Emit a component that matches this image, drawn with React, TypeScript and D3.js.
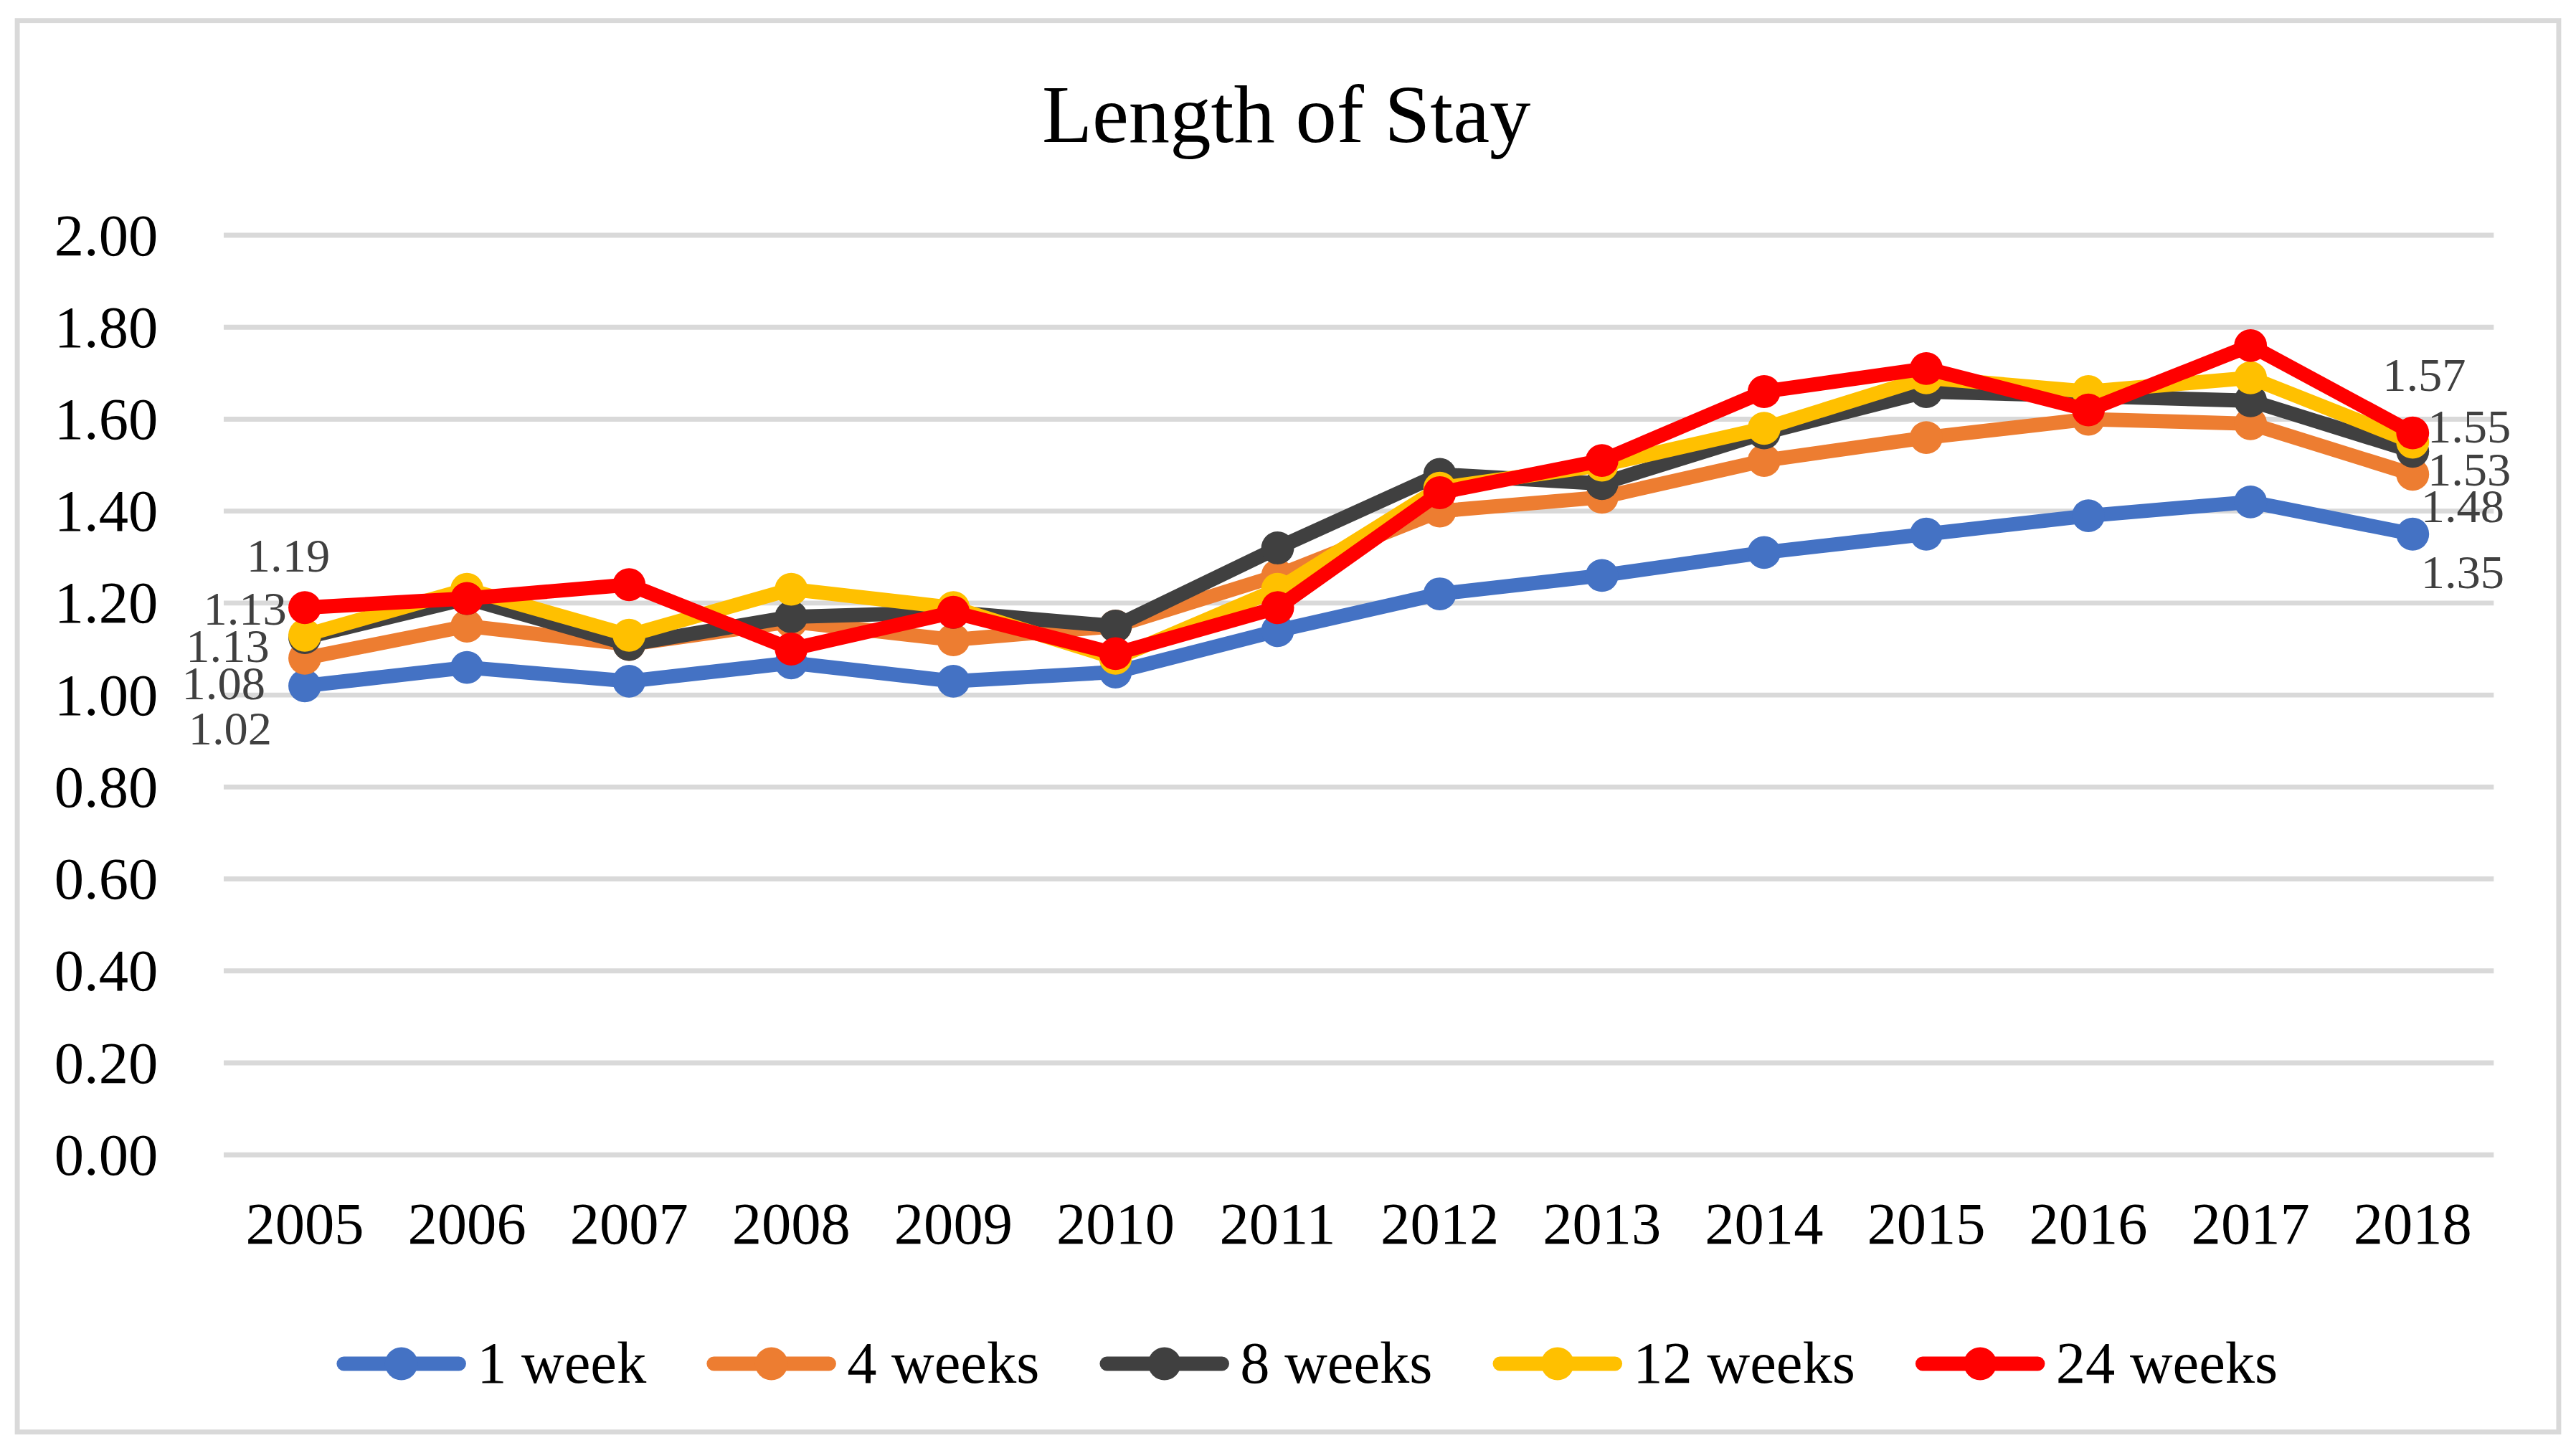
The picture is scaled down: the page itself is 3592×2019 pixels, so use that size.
import * as d3 from "d3";
import { useEffect, useRef } from "react";

const years = ["2005", "2006", "2007", "2008", "2009", "2010", "2011", "2012", "2013", "2014", "2015", "2016", "2017", "2018"];
const week1 = [1.02, 1.06, 1.03, 1.07, 1.03, 1.05, 1.14, 1.22, 1.26, 1.31, 1.35, 1.39, 1.42, 1.35];
const week4 = [1.08, 1.15, 1.11, 1.16, 1.12, 1.15, 1.26, 1.4, 1.43, 1.51, 1.56, 1.6, 1.59, 1.48];
const week8 = [1.125, 1.21, 1.11, 1.17, 1.18, 1.15, 1.32, 1.48, 1.46, 1.57, 1.66, 1.65, 1.64, 1.53];
const week12 = [1.13, 1.23, 1.13, 1.23, 1.19, 1.08, 1.23, 1.45, 1.5, 1.58, 1.69, 1.66, 1.69, 1.55];
const week24 = [1.19, 1.21, 1.24, 1.1, 1.18, 1.09, 1.19, 1.44, 1.51, 1.66, 1.71, 1.62, 1.76, 1.57];
const yTicks = [0, 0.2, 0.4, 0.6, 0.8, 1.0, 1.2, 1.4, 1.6, 1.8, 2.0];

// label offsets for the first and last point of each series (Excel placed them by hand)
type Lab = { dx: number; dy: number; anchor: string };
const series: { name: string; color: string; values: number[]; first: Lab; last: Lab }[] = [
  { name: "1 week", color: "#4472C4", values: week1, first: { dx: -20, dy: 35.7, anchor: "end" }, last: { dx: 5, dy: 33, anchor: "start" } },
  { name: "4 weeks", color: "#ED7D31", values: week4, first: { dx: -24, dy: 24.8, anchor: "end" }, last: { dx: 5, dy: 29, anchor: "start" } },
  { name: "8 weeks", color: "#404040", values: week8, first: { dx: -21.5, dy: 14.8, anchor: "end" }, last: { dx: 9, dy: 21, anchor: "start" } },
  { name: "12 weeks", color: "#FFC000", values: week12, first: { dx: -11, dy: -6.6, anchor: "end" }, last: { dx: 9, dy: 0, anchor: "start" } },
  { name: "24 weeks", color: "#FF0000", values: week24, first: { dx: -10, dy: -22, anchor: "middle" }, last: { dx: 7, dy: -25.6, anchor: "middle" } },
];

const W = 3592;
const H = 2019;
const S = 3592 / 1566; // drawing units -> screen px
const font = "'Liberation Serif', 'Times New Roman', serif";

export default function App() {
  const svgRef = useRef<SVGSVGElement>(null);

  useEffect(() => {
    document.body.style.margin = "0";
    if (!svgRef.current) return;
    const svg = d3.select(svgRef.current);
    svg.selectAll("*").remove();

    const x = d3.scaleBand<string>().domain(years).range([136, 1516]);
    const cx = (yr: string) => (x(yr) ?? 0) + x.bandwidth() / 2;
    const y = d3.scaleLinear().domain([0, 2]).range([702, 143]);

    svg.append("rect").attr("width", W / S).attr("height", H / S).attr("fill", "#fff");
    svg
      .append("rect")
      .attr("x", 10.5)
      .attr("y", 12.5)
      .attr("width", 1545)
      .attr("height", 858)
      .attr("fill", "none")
      .attr("stroke", "#D9D9D9")
      .attr("stroke-width", 3);

    svg
      .append("text")
      .attr("x", 782)
      .attr("y", 86.5)
      .attr("text-anchor", "middle")
      .attr("font-family", font)
      .attr("font-size", 50)
      .attr("fill", "#000")
      .text("Length of Stay");

    // gridlines + y labels
    const grid = svg.append("g");
    yTicks.forEach((t) => {
      grid
        .append("line")
        .attr("x1", 136)
        .attr("x2", 1516)
        .attr("y1", y(t))
        .attr("y2", y(t))
        .attr("stroke", "#D9D9D9")
        .attr("stroke-width", 3);
      grid
        .append("text")
        .attr("x", 96)
        .attr("y", y(t) + 12)
        .attr("text-anchor", "end")
        .attr("font-family", font)
        .attr("font-size", 36)
        .attr("fill", "#000")
        .text(t.toFixed(2));
    });

    // x labels
    years.forEach((yr) => {
      svg
        .append("text")
        .attr("x", cx(yr))
        .attr("y", 756)
        .attr("text-anchor", "middle")
        .attr("font-family", font)
        .attr("font-size", 36)
        .attr("fill", "#000")
        .text(yr);
    });

    const line = d3
      .line<number>()
      .x((_, i) => cx(years[i]))
      .y((d) => y(d));

    series.forEach((s) => {
      const g = svg.append("g");
      g.append("path")
        .attr("d", line(s.values))
        .attr("fill", "none")
        .attr("stroke", s.color)
        .attr("stroke-width", 8.7)
        .attr("stroke-linejoin", "round")
        .attr("stroke-linecap", "round");
      g.selectAll("circle")
        .data(s.values)
        .enter()
        .append("circle")
        .attr("cx", (_, i) => cx(years[i]))
        .attr("cy", (d) => y(d))
        .attr("r", 10)
        .attr("fill", s.color);
    });

    // data labels on first and last points
    const labels = svg.append("g");
    series.forEach((s) => {
      const n = s.values.length - 1;
      [
        { i: 0, l: s.first },
        { i: n, l: s.last },
      ].forEach(({ i, l }) => {
        labels
          .append("text")
          .attr("x", cx(years[i]) + l.dx)
          .attr("y", y(s.values[i]) + l.dy)
          .attr("text-anchor", l.anchor)
          .attr("font-family", font)
          .attr("font-size", 29)
          .attr("fill", "#404040")
          .text(s.values[i].toFixed(2));
      });
    });

    // legend
    const leg = svg.append("g");
    let lx = 205;
    const ly = 829;
    series.forEach((s) => {
      leg
        .append("line")
        .attr("x1", lx + 4)
        .attr("x2", lx + 74)
        .attr("y1", ly)
        .attr("y2", ly)
        .attr("stroke", s.color)
        .attr("stroke-width", 8.7)
        .attr("stroke-linecap", "round");
      leg.append("circle").attr("cx", lx + 39).attr("cy", ly).attr("r", 10).attr("fill", s.color);
      const t = leg
        .append("text")
        .attr("x", lx + 85)
        .attr("y", 840.5)
        .attr("font-family", font)
        .attr("font-size", 36)
        .attr("fill", "#000")
        .text(s.name);
      const tw = (t.node() as SVGTextElement).getComputedTextLength();
      lx += 85 + tw + 37;
    });
  }, []);

  return (
    <svg
      ref={svgRef}
      width={W}
      height={H}
      viewBox={`0 0 ${W / S} ${H / S}`}
      style={{ display: "block" }}
    />
  );
}
